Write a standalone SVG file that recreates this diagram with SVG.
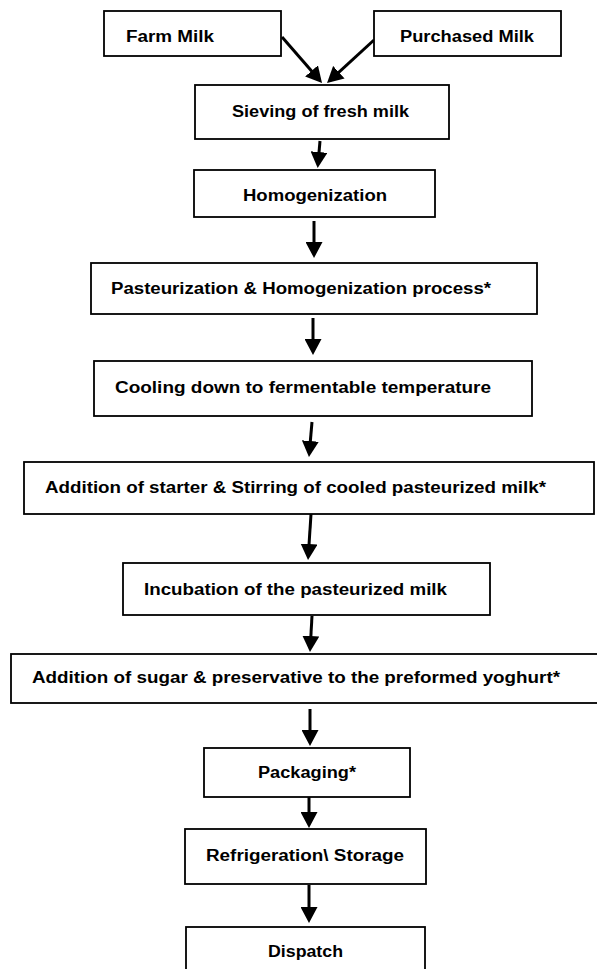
<svg xmlns="http://www.w3.org/2000/svg" width="597" height="969" viewBox="0 0 597 969">
<style>
.box{fill:#fff;stroke:#000;stroke-width:1.8}
.lbl{font-family:"Liberation Sans",Arial,sans-serif;font-weight:bold;font-size:16px;fill:#000}
.arr{stroke:#000;stroke-width:3;fill:none;marker-end:url(#ah)}
</style>
<defs>
<marker id="ah" markerUnits="userSpaceOnUse" markerWidth="17" markerHeight="17" refX="12" refY="8.5" orient="auto">
<path d="M0,0 L16,8.5 L0,17 Z" fill="#000"/>
</marker>
</defs>
<rect width="597" height="969" fill="#fff"/>
<g id="connectors">
<line class="arr" x1="282" y1="37" x2="319.4" y2="80"/>
<line class="arr" x1="374" y1="40" x2="330" y2="80.3"/>
<line class="arr" x1="320" y1="141" x2="318" y2="164"/>
<line class="arr" x1="314" y1="221" x2="314" y2="254"/>
<line class="arr" x1="313" y1="318" x2="313" y2="351"/>
<line class="arr" x1="312" y1="422" x2="309.3" y2="453"/>
<line class="arr" x1="311" y1="514" x2="308.3" y2="556"/>
<line class="arr" x1="312" y1="616" x2="310.2" y2="648"/>
<line class="arr" x1="310" y1="709" x2="310" y2="742"/>
<line class="arr" x1="309" y1="792" x2="309" y2="824"/>
<line class="arr" x1="309" y1="885" x2="309" y2="919"/>
</g>
<g id="farm-milk"><rect class="box" x="104" y="11" width="177" height="45"/><text class="lbl" x="126" y="42" textLength="88" lengthAdjust="spacingAndGlyphs">Farm Milk</text></g>
<g id="purchased-milk"><rect class="box" x="374" y="11" width="187" height="45"/><text class="lbl" x="400" y="42" textLength="134" lengthAdjust="spacingAndGlyphs">Purchased Milk</text></g>
<g id="sieving"><rect class="box" x="195" y="85" width="254" height="54"/><text class="lbl" x="232" y="117" textLength="177" lengthAdjust="spacingAndGlyphs">Sieving of fresh milk</text></g>
<g id="homogenization"><rect class="box" x="194" y="170" width="241" height="47"/><text class="lbl" x="243" y="201" textLength="144" lengthAdjust="spacingAndGlyphs">Homogenization</text></g>
<g id="pasteurization"><rect class="box" x="91" y="263" width="446" height="51"/><text class="lbl" x="111" y="294" textLength="380" lengthAdjust="spacingAndGlyphs">Pasteurization &amp; Homogenization process*</text></g>
<g id="cooling"><rect class="box" x="94" y="361" width="438" height="55"/><text class="lbl" x="115" y="393" textLength="376" lengthAdjust="spacingAndGlyphs">Cooling down to fermentable temperature</text></g>
<g id="starter"><rect class="box" x="24" y="462" width="570" height="52"/><text class="lbl" x="45" y="493" textLength="501" lengthAdjust="spacingAndGlyphs">Addition of starter &amp; Stirring of cooled pasteurized milk*</text></g>
<g id="incubation"><rect class="box" x="123" y="563" width="367" height="52"/><text class="lbl" x="144" y="595" textLength="303" lengthAdjust="spacingAndGlyphs">Incubation of the pasteurized milk</text></g>
<g id="sugar"><rect class="box" x="11" y="654" width="600" height="49"/><text class="lbl" x="32" y="683" textLength="528" lengthAdjust="spacingAndGlyphs">Addition of sugar &amp; preservative to the preformed yoghurt*</text></g>
<g id="packaging"><rect class="box" x="204" y="748" width="206" height="49"/><text class="lbl" x="258" y="778" textLength="98" lengthAdjust="spacingAndGlyphs">Packaging*</text></g>
<g id="refrigeration"><rect class="box" x="185" y="829" width="241" height="55"/><text class="lbl" x="206" y="861" textLength="198" lengthAdjust="spacingAndGlyphs">Refrigeration\ Storage</text></g>
<g id="dispatch"><rect class="box" x="186" y="927" width="239" height="50"/><text class="lbl" x="268" y="957" textLength="75" lengthAdjust="spacingAndGlyphs">Dispatch</text></g>
</svg>
